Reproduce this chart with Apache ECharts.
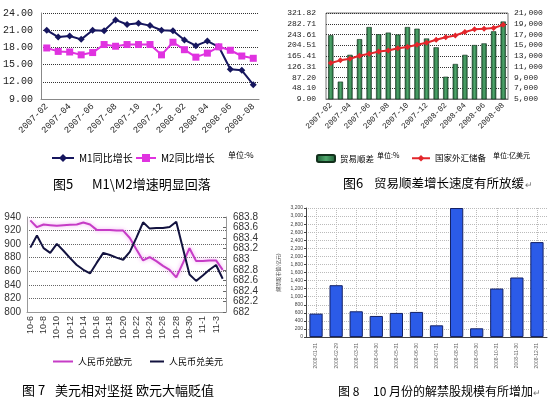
<!DOCTYPE html>
<html>
<head>
<meta charset="utf-8">
<script src="https://cdn.jsdelivr.net/npm/echarts@6/dist/echarts.min.js"></script>
<style>
  html, body { margin: 0; padding: 0; background: #fff; }
  #main { width: 550px; height: 397px; }
</style>
</head>
<body>
<div id="main"></div>
<script>
/* 四张小图拼在一个画布里 */

// 图5 M1/M2 同比增长
const months1 = ['2007-02','2007-03','2007-04','2007-05','2007-06','2007-07','2007-08','2007-09','2007-10','2007-11',
                 '2007-12','2008-01','2008-02','2008-03','2008-04','2008-05','2008-06','2008-07','2008-08'];
const m1 = [21.0, 19.8, 20.0, 19.4, 21.0, 20.9, 22.8, 22.0, 22.2, 21.8, 21.0, 20.9, 19.3, 18.3, 19.1, 18.1, 14.2, 14.0, 11.5];
const m2 = [17.9, 17.3, 17.2, 16.7, 17.1, 18.5, 18.2, 18.5, 18.5, 18.5, 16.7, 18.9, 17.6, 16.3, 17.0, 18.1, 17.5, 16.5, 16.1];

// 图6 贸易顺差 / 外汇储备
const trade = [241.0, 72.2, 169.7, 226.7, 270.7, 244.6, 250.5, 243.4, 270.7, 264.8, 229.1, 197.0, 90.1, 136.4, 169.7, 205.3, 211.3, 255.3, 290.9];
const reserves = [11700, 12190, 12490, 13040, 13400, 13830, 14010, 14440, 14680, 15100, 15470, 16020, 16500, 16810, 17470, 17960, 18080, 18200, 18800];
const tradeTicks = ['9.00','48.10','87.20','126.31','165.41','204.51','243.61','282.71','321.82'];

// 图7 人民币汇率
const days3 = ['10-6','10-7','10-8','10-9','10-10','10-11','10-12','10-13','10-14','10-15','10-16','10-17','10-18','10-19','10-20',
               '10-21','10-22','10-23','10-24','10-25','10-26','10-27','10-28','10-29','10-30','10-31','11-1','11-2','11-3','11-4'];
const eur = [935, 925, 929, 928, 927, 928, 928.5, 929, 932, 929, 921, 921, 921, 920, 920,
             909, 892, 876, 881, 875, 868, 862, 851, 872, 894, 875, 875, 876, 876, 862];
const usd = [683.22, 683.45, 683.21, 683.12, 683.29, 683.16, 683.02, 682.89, 682.80, 682.73, 682.93, 683.12, 683.08, 683.03, 682.99,
             683.14, 683.41, 683.70, 683.58, 683.59, 683.59, 683.61, 683.71, 683.21, 682.71, 682.59, 682.69, 682.80, 682.89, 682.63];

// 图8 解禁股规模
const months4 = ['2008-01-31','2008-02-29','2008-03-31','2008-04-30','2008-05-31','2008-06-30',
                 '2008-07-31','2008-08-31','2008-09-30','2008-10-31','2008-11-30','2008-12-31'];
const unlock = [580, 1285, 638, 522, 597, 622, 290, 3200, 216, 1202, 1476, 2354];

const mono = 'Liberation Mono';
const cjk = 'Noto Sans CJK SC';
const dotted = color => ({ show: true, lineStyle: { color, type: 'dotted', width: 1 } });

// 小工具: 画一段文字
const txt = (x, y, text, size, fill) => ({
    type: 'text', x, y,
    style: { text, font: `${size}px "${cjk}"`, fill: fill || '#000', textVerticalAlign: 'middle' }
});

let option = {
    animation: false,
    backgroundColor: '#fff',
    grid: [
        { left: 39, right: 291, top: 13, bottom: 298 },
        { left: 326, right: 42, top: 13, bottom: 298, show: true, borderColor: '#777', borderWidth: 1 },
        { left: 27, right: 324, top: 217, bottom: 85 },
        { left: 306, right: 3, top: 208, bottom: 60 },
        { left: 316, right: 13, top: 208, bottom: 60 }
    ],
    xAxis: [
        {
            type: 'category', gridIndex: 0, data: months1,
            axisLine: { lineStyle: { color: '#888' } },
            axisTick: { interval: 0, length: 4, lineStyle: { color: '#888' } },
            axisLabel: { interval: 1, rotate: 45, fontSize: 9, fontFamily: mono, color: '#222', margin: 6 }
        },
        {
            type: 'category', gridIndex: 1, data: months1,
            axisLine: { lineStyle: { color: '#777' } },
            axisTick: { interval: 0, length: 3, lineStyle: { color: '#777' } },
            axisLabel: { interval: 1, rotate: 45, fontSize: 8, fontFamily: mono, color: '#222', margin: 5 }
        },
        {
            type: 'category', gridIndex: 2, data: days3,
            axisLine: { lineStyle: { color: '#999' } },
            axisTick: { show: false },
            axisLabel: { interval: 1, rotate: 90, fontSize: 9, fontFamily: 'Liberation Sans', color: '#333', margin: 4 }
        },
        {
            type: 'category', gridIndex: 3, data: months4,
            axisLine: { lineStyle: { color: '#444' } },
            axisTick: { show: false },
            axisLabel: { interval: 0, rotate: 90, fontSize: 5, fontFamily: 'Liberation Sans', color: '#666', margin: 6 }
        },
        {
            type: 'value', gridIndex: 4, min: 0, max: 11, interval: 1,
            axisLine: { show: false }, axisTick: { show: false }, axisLabel: { show: false },
            splitLine: dotted('#bbb')
        }
    ],
    yAxis: [
        {
            type: 'value', gridIndex: 0, min: 9, max: 24, interval: 3,
            axisLine: { show: true, lineStyle: { color: '#888' } },
            axisTick: { show: false },
            axisLabel: { fontSize: 10, fontFamily: mono, color: '#222', formatter: v => v.toFixed(2) },
            splitLine: dotted('#333')
        },
        {
            type: 'value', gridIndex: 1, min: 9, max: 321.82, interval: 39.1025,
            axisLine: { show: false }, axisTick: { show: false },
            axisLabel: { fontSize: 8, fontFamily: mono, color: '#222', margin: 10,
                formatter: v => tradeTicks[Math.round((v - 9) / 39.1025)] },
            splitLine: dotted('#333')
        },
        {
            type: 'value', gridIndex: 1, position: 'right', min: 5000, max: 21000, interval: 2000,
            axisLine: { show: false }, axisTick: { show: false },
            axisLabel: { fontSize: 8, fontFamily: mono, color: '#222', margin: 6, formatter: v => v.toLocaleString('en-US') },
            splitLine: { show: false }
        },
        {
            type: 'value', gridIndex: 2, min: 800, max: 940, interval: 20,
            axisLine: { show: true, lineStyle: { color: '#999' } }, axisTick: { show: false },
            axisLabel: { fontSize: 10, fontFamily: 'Liberation Sans', color: '#333', margin: 6 },
            splitLine: dotted('#666')
        },
        {
            type: 'value', gridIndex: 2, position: 'right', min: 682, max: 683.8, interval: 0.2,
            axisLine: { show: true, lineStyle: { color: '#999' } },
            axisTick: { show: true, length: 3, inside: true, lineStyle: { color: '#666' } },
            axisLabel: { fontSize: 10, fontFamily: 'Liberation Sans', color: '#333', margin: 7 },
            splitLine: { show: false }
        },
        {
            type: 'value', gridIndex: 3, min: 0, max: 3200, interval: 200,
            name: '解禁股市值(亿元)', nameLocation: 'middle', nameRotate: 90, nameGap: 25,
            nameTextStyle: { fontSize: 5, fontFamily: cjk, color: '#444' },
            axisLine: { show: true, lineStyle: { color: '#444' } },
            axisTick: { show: true, length: 2, lineStyle: { color: '#444' } },
            axisLabel: { fontSize: 5, fontFamily: 'Liberation Sans', color: '#444', margin: 3,
                formatter: v => v.toLocaleString('en-US') },
            splitLine: dotted('#bbb')
        },
        {
            type: 'value', gridIndex: 4, min: 0, max: 1, show: false
        }
    ],
    legend: [
        { data: ['M1同比增长'], left: 46, top: 148, itemWidth: 22, itemHeight: 10, itemGap: 3,
          textStyle: { fontSize: 10, fontFamily: cjk, color: '#000' } },
        { data: ['M2同比增长'], left: 130, top: 148, itemWidth: 20, itemHeight: 10,
          textStyle: { fontSize: 10, fontFamily: cjk, color: '#000' } },
        { data: ['贸易顺差'], left: 311, top: 149, itemWidth: 18, itemHeight: 7,
          textStyle: { fontSize: 8.5, fontFamily: cjk, color: '#000' } },
        { data: ['国家外汇储备'], left: 406, top: 149, itemWidth: 18, itemHeight: 8,
          textStyle: { fontSize: 8.5, fontFamily: cjk, color: '#000' } },
        { data: [{ name: '人民币兑欧元', icon: 'rect' }], left: 48, top: 352, itemWidth: 20, itemHeight: 2,
          textStyle: { fontSize: 9, fontFamily: cjk, color: '#000' } },
        { data: [{ name: '人民币兑美元', icon: 'rect' }], left: 145, top: 352, itemWidth: 14, itemHeight: 2,
          textStyle: { fontSize: 9, fontFamily: cjk, color: '#000' } }
    ],
    graphic: [
        txt(228, 155, '单位:%', 8),
        txt(377, 155, '单位:%', 7),
        txt(493, 155, '单位:亿美元', 7),
        txt(53, 184, '图5', 13),
        txt(92, 184, 'M1\\M2增速明显回落', 13),
        txt(343, 183, '图6', 13),
        txt(374, 183, '贸易顺差增长速度有所放缓', 12.5),
        txt(525, 185, '↵', 9, '#777'),
        txt(22, 390, '图 7', 13),
        txt(55, 390, '美元相对坚挺 欧元大幅贬值', 13),
        txt(338, 391, '图 8', 12),
        txt(373, 391, '10 月份的解禁股规模有所增加', 12),
        txt(533, 393, '↵', 9, '#777')
    ],
    series: [
        {
            name: 'M1同比增长', type: 'line', xAxisIndex: 0, yAxisIndex: 0, data: m1,
            symbol: 'diamond', symbolSize: 7,
            lineStyle: { color: '#16165e', width: 2 }, itemStyle: { color: '#16165e' }
        },
        {
            name: 'M2同比增长', type: 'line', xAxisIndex: 0, yAxisIndex: 0, data: m2,
            symbol: 'rect', symbolSize: 7,
            lineStyle: { color: '#e033e0', width: 2 }, itemStyle: { color: '#e033e0' }
        },
        {
            name: '贸易顺差', type: 'bar', xAxisIndex: 1, yAxisIndex: 1, data: trade, barWidth: '55%',
            itemStyle: {
                borderColor: '#12301c', borderWidth: 0.6,
                color: new echarts.graphic.LinearGradient(0, 0, 1, 0, [
                    { offset: 0, color: '#1d5a34' },
                    { offset: 0.5, color: '#4fa86c' },
                    { offset: 1, color: '#1d5a34' }
                ])
            }
        },
        {
            name: '国家外汇储备', type: 'line', xAxisIndex: 1, yAxisIndex: 2, data: reserves,
            symbol: 'diamond', symbolSize: 6,
            lineStyle: { color: '#e3262b', width: 2 }, itemStyle: { color: '#e3262b' }
        },
        {
            name: '人民币兑欧元', type: 'line', xAxisIndex: 2, yAxisIndex: 3, data: eur,
            symbol: 'none',
            lineStyle: { color: '#c63cc6', width: 2, shadowBlur: 4, shadowColor: '#f3a6f3' },
            itemStyle: { color: '#c63cc6' }
        },
        {
            name: '人民币兑美元', type: 'line', xAxisIndex: 2, yAxisIndex: 4, data: usd,
            symbol: 'none',
            lineStyle: { color: '#12123f', width: 2 }, itemStyle: { color: '#12123f' }
        },
        {
            name: '解禁', type: 'bar', xAxisIndex: 3, yAxisIndex: 5, data: unlock, barWidth: '66%',
            itemStyle: { color: '#2b5be8', borderColor: '#142266', borderWidth: 1 }
        }
    ]
};

let myChart = echarts.init(document.getElementById('main'));
myChart.setOption(option);
</script>
</body>
</html>
